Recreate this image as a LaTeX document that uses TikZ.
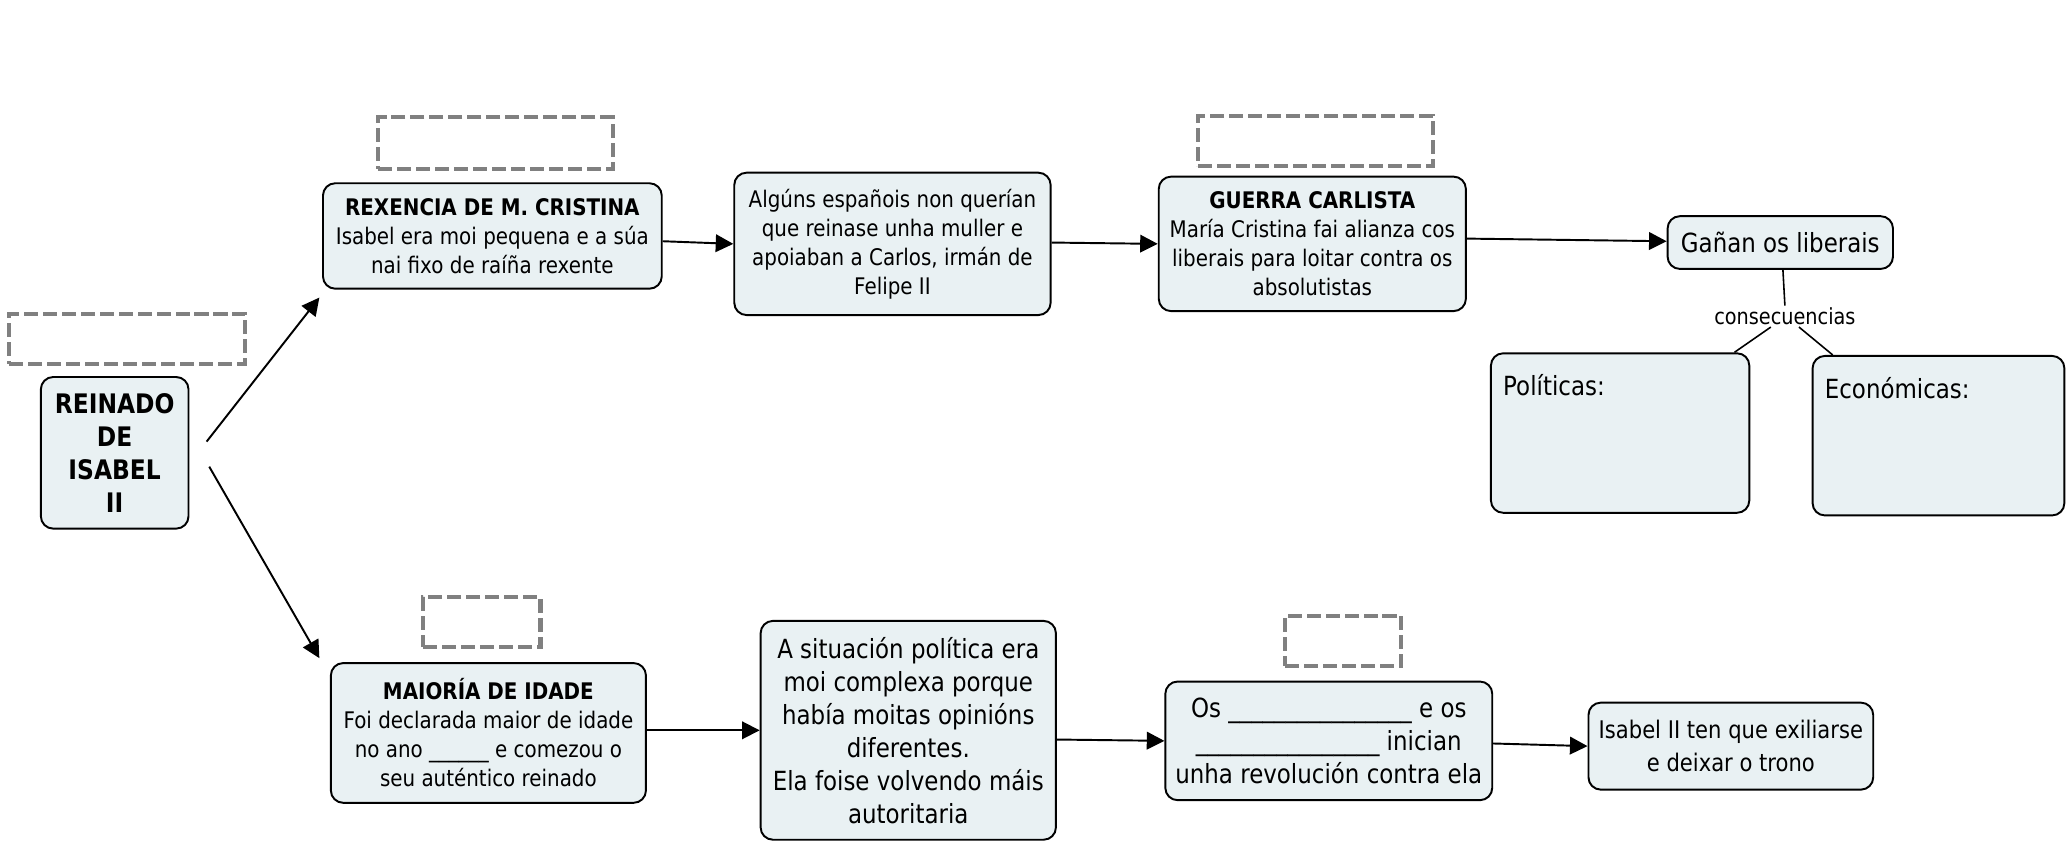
\documentclass[tikz,border=0pt]{standalone}
\usepackage{fontspec}
\setmainfont{DejaVu Sans}[FakeStretch=0.87]
\usetikzlibrary{arrows.meta,calc}
\definecolor{boxfill}{RGB}{233,241,243}
\definecolor{dashgray}{RGB}{128,128,128}
\tikzset{
  sz/.style 2 args={minimum width=#1*0.75pt, minimum height=#2*0.75pt},
  box/.style={draw=black, line width=1.1pt, fill=boxfill, rounded corners=7pt, align=center, inner sep=0pt},
  dbox/.style={draw=dashgray, line width=2.3pt, dash pattern=on 8pt off 2.8pt, inner sep=0pt},
  arr/.style={line width=1.1pt, -{Triangle[length=10pt,width=10pt]}},
  link/.style={line width=0.9pt},
  small/.style={font=\fontsize{13}{16.5}\selectfont},
  large/.style={font=\fontsize{15}{18.75}\selectfont},
}
\begin{document}
\begin{tikzpicture}[x=0.75pt,y=-0.75pt]
\useasboundingbox (0,0) rectangle (1568,642);
% dashed answer boxes
\node[dbox, sz={179}{38}] (d0) at (96.5,257) {};
\node[dbox, sz={178}{39}] (d1) at (376,108.5) {};
\node[dbox, sz={178}{38}] (d2) at (998,107) {};
\node[dbox, sz={89}{38}] (d3) at (365.5,472) {};
\node[dbox, sz={88}{38}] (d4) at (1019,486) {};
% concept boxes
\node[box, sz={112}{115}, font=\fontsize{15.3}{18.8}\selectfont\bfseries] (rein) at (87,343.5) {REINADO\\DE\\ISABEL\\II};
\node[box, sz={257}{80}, small] (rex) at (373.5,179) {\textbf{REXENCIA DE M. CRISTINA}\\Isabel era moi pequena e a súa\\nai fixo de raíña rexente};
\node[box, sz={240}{108}, small] (alg) at (677,185) {Algúns españois non querían\\que reinase unha muller e\\apoiaban a Carlos, irmán de\\Felipe II};
\node[box, sz={233}{102}, small] (gue) at (995.5,185) {\textbf{GUERRA CARLISTA}\\María Cristina fai alianza cos\\liberais para loitar contra os\\absolutistas};
\node[box, sz={171}{40}, large] (gan) at (1350.5,184) {Gañan os liberais};
\node[font=\fontsize{12.6}{14}\selectfont, inner sep=1pt] (cons) at (1354,240) {consecuencias};
\node[box, sz={196}{121}, label={[anchor=north west, xshift=4pt, yshift=-9pt, large]north west:Políticas:}] (pol) at (1229,328.5) {};
\node[box, sz={191}{121}, label={[anchor=north west, xshift=4pt, yshift=-9pt, large]north west:Económicas:}] (eco) at (1470.5,330.5) {};
\node[box, sz={239}{106}, small] (mai) at (370.5,556) {\textbf{MAIORÍA DE IDADE}\\Foi declarada maior de idade\\no ano \_\_\_\_\_\_ e comezou o\\seu auténtico reinado};
\node[box, sz={224}{166}, large] (sit) at (689,554) {A situación política era\\moi complexa porque\\había moitas opinións\\diferentes.\\Ela foise volvendo máis\\autoritaria};
\node[box, sz={248}{90}, large] (os) at (1008,562) {Os \_\_\_\_\_\_\_\_\_\_\_\_\_\_\_\_ e os\\\_\_\_\_\_\_\_\_\_\_\_\_\_\_\_\_ inician\\unha revolución contra ela};
\node[box, sz={216}{66}, font=\fontsize{13.8}{18.75}\selectfont] (isa) at (1313,566) {Isabel II ten que exiliarse\\e deixar o trono};
% connectors
\draw[arr] ([shift={(13,-8.5)}]rein.east) -- ([shift={(-2,6)}]rex.south west);
\draw[arr] ([shift={(15,10.5)}]rein.east) -- ([shift={(-8,-3)}]mai.north west);
\draw[arr] ([yshift=-3pt]rex.east) -- (alg.west);
\draw[arr] ([yshift=0.75pt]alg.east) -- (gue.west);
\draw[arr] ([yshift=3pt]gue.east) -- ([yshift=0.75pt]gan.west);
\draw[arr] ([yshift=1.5pt]mai.east) -- (sit.west);
\draw[arr] ([yshift=-5.25pt]sit.east) -- (os.west);
\draw[arr] ([yshift=-1.5pt]os.east) -- (isa.west);
\draw[link] ([xshift=1.5pt]gan.south) -- ([xshift=0pt]cons.north);
\draw[link] ([xshift=-8pt]cons.south) -- ([xshift=-9pt]pol.north east);
\draw[link] ([xshift=8pt]cons.south) -- ([xshift=12pt]eco.north west);
\end{tikzpicture}
\end{document}
